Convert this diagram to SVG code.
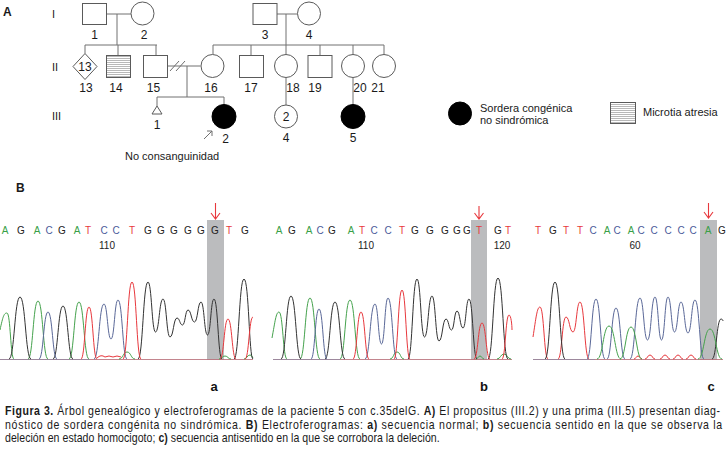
<svg xmlns="http://www.w3.org/2000/svg" width="726" height="452" viewBox="0 0 726 452">
<style>
.ln{stroke:#707070;stroke-width:1;fill:none}
.sym{fill:#fff;stroke:#5a5a5a;stroke-width:1}
.aff{fill:#000;stroke:#000;stroke-width:1}
.t{font-family:"Liberation Sans",Arial,sans-serif;fill:#1a1a1a}
.lbl{font-size:12px;text-anchor:middle}
.rom{font-size:11px}
.seq{font-family:"Liberation Sans",Arial,sans-serif;font-size:10px;text-anchor:middle}
.A{fill:#3a9f48}.C{fill:#4b5a9c}.G{fill:#222}.T{fill:#e8383d}
.tr{fill:none;stroke-width:1}
.g{stroke:#45a24d}.k{stroke:#333}.b{stroke:#5a6898}.r{stroke:#e8383d}
.sh{fill:#bbbcbe}
.arr{stroke:#e8383d;stroke-width:1.1;fill:none}
.pl{font-family:"Liberation Sans",Arial,sans-serif;font-size:13px;font-weight:bold;text-anchor:middle;fill:#111}
.cap{font-family:"Liberation Sans",Arial,sans-serif;font-size:12px;fill:#1a1a1a}
.bd{font-weight:bold}
</style>
<defs>
<pattern id="hs" width="4" height="2" patternUnits="userSpaceOnUse">
<rect width="4" height="2" fill="#fff"/>
<line x1="0" y1="0.5" x2="4" y2="0.5" stroke="#9a9a9a" stroke-width="0.7"/>
</pattern>
</defs>

<text class="t" x="3" y="16" font-size="12" font-weight="bold">A</text>
<text class="t rom" x="52" y="18">I</text>
<text class="t rom" x="52" y="71">II</text>
<text class="t rom" x="52" y="120">III</text>

<g id="connectors">
<path class="ln" d="M106.5,14 H131 M117,14 V45 M85,45 H157 M85,45 V53.5 M118,45 V55 M156,45 V55"/>
<path class="ln" d="M277,14 H297.5 M286,14 V45 M213,45 H384 M213,45 V54 M251,45 V55 M286,45 V54 M320,45 V55 M353,45 V54.5 M384,45 V54.5"/>
<path class="ln" d="M167,66 H200.5 M170,71 L179,61 M176,71 L185,61 M187,66 V97 M157,97 H224 M157,97 V106 M224,97 V104.5"/>
<path class="ln" d="M286,78 V105 M353,78 V105"/>
<path class="ln" d="M204,139 L212,131 M207,131 H212 V136"/>
</g>

<g id="I1"><rect class="sym" x="82.5" y="3.5" width="24" height="21"/><text class="t lbl" x="94.5" y="39">1</text></g>
<g id="I2"><circle class="sym" cx="142.5" cy="13.5" r="11.5"/><text class="t lbl" x="144" y="39">2</text></g>
<g id="I3"><rect class="sym" x="253" y="3.5" width="24" height="21"/><text class="t lbl" x="265" y="39">3</text></g>
<g id="I4"><circle class="sym" cx="309" cy="13.5" r="11.5"/><text class="t lbl" x="309" y="39">4</text></g>

<g id="II13"><path class="sym" d="M85,53.5 L97,66.5 L85,79.5 L73,66.5 Z"/><text class="t lbl" x="85" y="71" font-size="11">13</text><text class="t lbl" x="86" y="92">13</text></g>
<g id="II14"><rect x="106.5" y="55.5" width="24" height="22" fill="url(#hs)" stroke="#5a5a5a"/><text class="t lbl" x="116" y="92">14</text></g>
<g id="II15"><rect class="sym" x="143.5" y="55.5" width="24" height="22"/><text class="t lbl" x="153.5" y="92">15</text></g>
<g id="II16"><circle class="sym" cx="212.5" cy="66" r="11.5"/><text class="t lbl" x="211" y="92">16</text></g>
<g id="II17"><rect class="sym" x="239.5" y="55.5" width="24" height="22"/><text class="t lbl" x="251" y="92">17</text></g>
<g id="II18"><circle class="sym" cx="286" cy="66" r="11.5"/><text class="t lbl" x="293" y="92">18</text></g>
<g id="II19"><rect class="sym" x="308" y="55.5" width="24" height="22"/><text class="t lbl" x="315" y="92">19</text></g>
<g id="II20"><circle class="sym" cx="353" cy="66" r="11.5"/><text class="t lbl" x="360" y="92">20</text></g>
<g id="II21"><circle class="sym" cx="384" cy="66" r="11.5"/><text class="t lbl" x="378" y="92">21</text></g>

<g id="III1"><path class="sym" d="M157,106 L162,114 L152,114 Z"/><text class="t lbl" x="157" y="129">1</text></g>
<g id="III2"><circle class="aff" cx="224" cy="116.5" r="12"/><text class="t lbl" x="225.5" y="143">2</text></g>
<g id="III4"><circle class="sym" cx="286" cy="116.5" r="11.5"/><text class="t lbl" x="286" y="120.5" font-size="11">2</text><text class="t lbl" x="286" y="142">4</text></g>
<g id="III5"><circle class="aff" cx="353" cy="116.5" r="12"/><text class="t lbl" x="353" y="142">5</text></g>

<text class="t" x="125" y="160" font-size="11">No consanguinidad</text>

<g id="legend-affected"><circle class="aff" cx="460" cy="113.5" r="11.5"/><text class="t" x="480" y="111.5" font-size="11">Sordera congénica</text><text class="t" x="480" y="124" font-size="11">no sindrómica</text></g>
<g id="legend-microtia"><rect x="610.5" y="102.5" width="25" height="21" fill="url(#hs)" stroke="#5a5a5a"/><text class="t" x="643" y="116" font-size="11">Microtia atresia</text></g>

<text class="t" x="16" y="192" font-size="12" font-weight="bold">B</text>

<rect class="sh" x="207" y="220" width="17" height="140"/>
<rect class="sh" x="471" y="220" width="16" height="140"/>
<rect class="sh" x="700" y="220" width="17" height="140"/>

<path class="arr" d="M215.5,203 V219 M211,213 L215.5,219 L220,213"/>
<path class="arr" d="M479,206 V219 M474.5,213 L479,219 L483.5,213"/>
<path class="arr" d="M708.5,203 V218 M704,212 L708.5,218 L713,212"/>

<g class="seq">
<text x="5" y="234" class="A">A</text><text x="21" y="234" class="G">G</text><text x="37" y="234" class="A">A</text><text x="49" y="234" class="C">C</text><text x="62" y="234" class="G">G</text><text x="77" y="234" class="A">A</text><text x="88" y="234" class="T">T</text><text x="104" y="234" class="C">C</text><text x="116" y="234" class="C">C</text><text x="132" y="234" class="T">T</text><text x="148" y="234" class="G">G</text><text x="161" y="234" class="G">G</text><text x="174" y="234" class="G">G</text><text x="188" y="234" class="G">G</text><text x="201" y="234" class="G">G</text><text x="215" y="234" class="G">G</text><text x="229" y="234" class="T">T</text><text x="245" y="234" class="G">G</text>
<text x="107" y="249" class="G">110</text>
<text x="279" y="234" class="A">A</text><text x="292" y="234" class="G">G</text><text x="309" y="234" class="A">A</text><text x="320" y="234" class="C">C</text><text x="332" y="234" class="G">G</text><text x="351" y="234" class="A">A</text><text x="362" y="234" class="T">T</text><text x="374" y="234" class="C">C</text><text x="388" y="234" class="C">C</text><text x="402" y="234" class="T">T</text><text x="415" y="234" class="G">G</text><text x="430" y="234" class="G">G</text><text x="445" y="234" class="G">G</text><text x="457" y="234" class="G">G</text><text x="467" y="234" class="G">G</text><text x="479" y="234" class="T">T</text><text x="498" y="234" class="G">G</text><text x="508" y="234" class="T">T</text>
<text x="366" y="249" class="G">110</text><text x="502" y="249" class="G">120</text>
<text x="538" y="234" class="T">T</text><text x="553" y="234" class="G">G</text><text x="566" y="234" class="T">T</text><text x="580" y="234" class="T">T</text><text x="593" y="234" class="C">C</text><text x="607" y="234" class="A">A</text><text x="617" y="234" class="C">C</text><text x="631" y="234" class="A">A</text><text x="641" y="234" class="C">C</text><text x="654" y="234" class="C">C</text><text x="668" y="234" class="C">C</text><text x="681" y="234" class="C">C</text><text x="693" y="234" class="C">C</text><text x="708" y="234" class="A">A</text><text x="722" y="234" class="G">G</text>
<text x="635" y="249" class="G">60</text>
</g>

<path d="M0,359.5 H253 M273,359.5 H512 M533,359.5 H723" stroke="#b8707a" stroke-width="1" fill="none" opacity="0.85"/>
<path d="M0,359.5 H90 M273,359.5 H340 M533,359.5 H595" stroke="#7f8aa8" stroke-width="0.8" fill="none" opacity="0.7"/>

<path class="tr g" d="M0,330 C3,316 4,313 7,313 C10.5,313 10.5,359 14,359 M28,359 C33,359 33,301 38,301 C43,301 43,359 48,359 M69,359 C74,359 74,302 79,302 C84,302 84,359 89,359 M119,359 C123,359 123,352 127,352 C131,352 131,359 135,359 M219,359 C222,359 222,356 225,356 C228,356 228,359 231,359 M244,359 C247,359 247,355 250,355 C252,355 252,357 253,358"/>
<path class="tr k" d="M9,359 C14.5,359 14.5,297 20,297 C25.5,297 25.5,359 31,359 M53,359 C58,359 58,306 63,306 C68,306 68,359 73,359 M138,359 C143,359 143,282 148,282 C151.75,282 151.75,332 155.5,332 C159.25,332 159.25,299 163,299 C166.5,299 166.5,337 170,337 C173.5,337 173.5,318 177,318 C179.75,318 179.75,325 182.5,325 C185.25,325 185.25,310 188,310 C191.25,310 191.25,322 194.5,322 C197.75,322 197.75,302 201,302 C204.25,302 204.25,335 207.5,335 C210.75,335 210.75,299 214,299 C218,299 218,359 222,359 M234,359 C239,359 239,279 244,279 C249,279 249,359 253,359"/>
<path class="tr b" d="M39,359 C43.5,359 43.5,312 48,312 C52.5,312 52.5,359 57,359 M94,359 C99,359 99,304 104,304 C107.5,304 107.5,339 111,339 C114.5,339 114.5,300 118,300 C122.5,300 122.5,359 127,359"/>
<path class="tr r" d="M81,359 C85,359 85,307 89,307 C93,307 93,359 97,359 M123,359 C127.5,359 127.5,282 132,282 C136.5,282 136.5,359 141,359 M220,359 C224,359 224,319 228,319 C232,319 232,359 236,359 M245,359 C249,359 249,317 253,317 M97,358 Q101,354 105,357 Q109,355 113,357 Q117,355 121,357"/>

<path class="tr g" d="M272,338 C275,322 276,312 279,312 C283,312 283,359 287,359 M300,359 C305,359 305,298 310,298 C315,298 315,359 320,359 M340,359 C345,359 345,300 350,300 C355,300 355,359 360,359 M390,359 C393.5,359 393.5,352 397,352 C400.5,352 400.5,359 404,359 M497,359 C500.5,359 500.5,354 504,354 C507.5,354 507.5,359 511,359 M476,359 C478,359 478,356 480,356 C482,356 482,359 484,359"/>
<path class="tr k" d="M281,359 C286,359 286,296 291,296 C296,296 296,359 301,359 M325,359 C330,359 330,302 335,302 C340,302 340,359 345,359 M408,359 C412.5,359 412.5,279 417,279 C420.75,279 420.75,337 424.5,337 C428.25,337 428.25,296 432,296 C435.5,296 435.5,341 439,341 C442.5,341 442.5,319 446,319 C448.75,319 448.75,330 451.5,330 C454.25,330 454.25,311 457,311 C460,311 460,328 463,328 C466,328 466,299 469,299 C473,299 473,359 477,359 M488,359 C493,359 493,278 498,278 C503,278 503,359 508,359"/>
<path class="tr b" d="M311,359 C315,359 315,309 319,309 C323,309 323,359 327,359 M365,359 C370,359 370,304 375,304 C378.25,304 378.25,344 381.5,344 C384.75,344 384.75,298 388,298 C392.5,298 392.5,359 397,359"/>
<path class="tr r" d="M353,359 C357,359 357,312 361,312 C365,312 365,359 369,359 M394,359 C398,359 398,290 402,290 C406,290 406,359 410,359 M474,359 C478,359 478,323 482,323 C486,323 486,359 490,359 M502,359 C505.5,359 505.5,315 509,315 C511,315 512,325 512,330"/>

<path class="tr r" d="M533,337 C536,318 537,307 540,307 C544,307 544,359 548,359 M558,359 C562,359 562,317 566,317 C569.5,317 569.5,332 573,332 C576.5,332 576.5,302 580,302 C584.5,302 584.5,359 589,359 M634,359 C636,359 636,356 638,356 C640,356 640,359 642,359 M645,359 C647.5,359 647.5,355 650,355 C652.5,355 652.5,359 655,359 M660,359 C662.5,359 662.5,355 665,355 C667.5,355 667.5,359 670,359 M673,359 C675.5,359 675.5,355 678,355 C680.5,355 680.5,359 683,359 M686,359 C688.5,359 688.5,355 691,355 C693.5,355 693.5,359 696,359"/>
<path class="tr k" d="M545,359 C550,359 550,282 555,282 C560,282 560,359 565,359 M712,359 C716.5,359 716.5,319 721,319 C722,319 723,320 723,321"/>
<path class="tr b" d="M587,359 C591.5,359 591.5,299 596,299 C600.5,299 600.5,359 605,359 M607,359 C611.5,359 611.5,308 616,308 C620.5,308 620.5,359 625,359 M630,359 C635,359 635,298 640,298 C643.75,298 643.75,340 647.5,340 C651.25,340 651.25,297 655,297 C658.25,297 658.25,340 661.5,340 C664.75,340 664.75,297 668,297 C671.25,297 671.25,332 674.5,332 C677.75,332 677.75,302 681,302 C684.5,302 684.5,333 688,333 C691.5,333 691.5,300 695,300 C699.5,300 699.5,359 704,359"/>
<path class="tr g" d="M597,359 C603,359 603,326 609,326 C615,326 615,359 621,359 M620,359 C625.5,359 625.5,327 631,327 C636.5,327 636.5,359 642,359 M698,359 C704,359 704,329 710,329 C716,329 716,359 722,359"/>

<text class="pl" x="214" y="391">a</text>
<text class="pl" x="484" y="391">b</text>
<text class="pl" x="711" y="391">c</text>

<g transform="scale(0.88,1)">
<text class="cap" x="5.7" y="415.5" textLength="812.5" lengthAdjust="spacing"><tspan class="bd">Figura 3.</tspan> Árbol genealógico y electroferogramas de la paciente 5 con c.35delG. <tspan class="bd">A)</tspan> El propositus (III.2) y una prima (III.5) presentan diag-</text>
<text class="cap" x="5.7" y="429" textLength="815" lengthAdjust="spacing">nóstico de sordera congénita no sindrómica. <tspan class="bd">B)</tspan> Electroferogramas: <tspan class="bd">a)</tspan> secuencia normal; <tspan class="bd">b)</tspan> secuencia sentido en la que se observa la</text>
<text class="cap" x="5.7" y="442.5" textLength="494" lengthAdjust="spacing">deleción en estado homocigoto; <tspan class="bd">c)</tspan> secuencia antisentido en la que se corrobora la deleción.</text>
</g>
</svg>
